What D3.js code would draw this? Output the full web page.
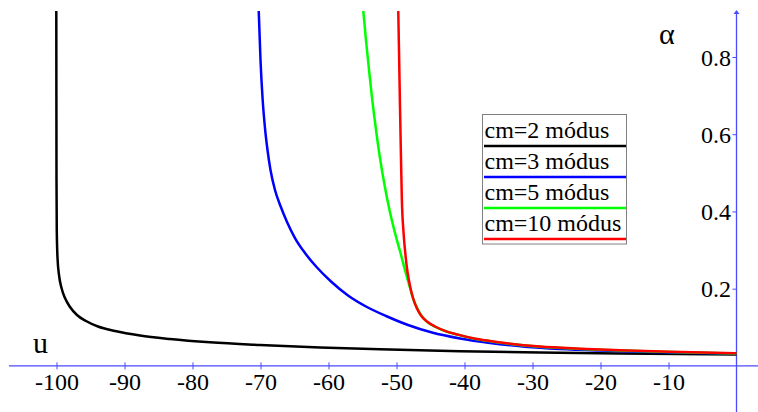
<!DOCTYPE html>
<html>
<head>
<meta charset="utf-8">
<script src="https://cdn.jsdelivr.net/npm/d3@7"></script>
<style>
  html, body { margin: 0; padding: 0; background: #fff; }
  svg { display: block; }
</style>
</head>
<body>
<svg id="chart" width="758" height="412"></svg>
<script>
// Tick values
const xTicks = [-100, -90, -80, -70, -60, -50, -40, -30, -20, -10];
const yTicks = [0.2, 0.4, 0.6, 0.8];

// Series: u (horizontal) and alpha (vertical) samples for each cm value
const seriesNames = ["cm=2 módus", "cm=3 módus", "cm=5 módus", "cm=10 módus"];
const seriesColors = ["#000000", "#0000ff", "#00ff00", "#ff0000"];

const uCm2 = [-100.03, -100.015, -100.0, -99.96, -99.85, -99.63, -99.26, -98.75, -98.01, -96.99, -95.66, -93.90, -91.40, -87.72, -83.31, -77.43, -70.07, -61.25, -52.43, -40.66, -28.90, -17.13, 0];
const aCm2 = [0.9191, 0.6886, 0.4814, 0.3520, 0.2794, 0.2354, 0.2017, 0.1758, 0.1525, 0.1318, 0.1163, 0.1020, 0.0904, 0.0787, 0.0697, 0.0611, 0.0541, 0.0477, 0.0430, 0.0381, 0.0347, 0.0321, 0.0295];

const uCm3 = [-70.26, -70.0, -69.68, -69.34, -68.97, -68.53, -67.87, -67.06, -66.10, -64.93, -63.46, -61.69, -59.63, -57.13, -54.49, -51.54, -48.31, -44.78, -40.66, -36.25, -31.10, -25.96, -20.07, -12.72, -5.37, 0];
const aCm3 = [0.9191, 0.7922, 0.6886, 0.6161, 0.5591, 0.5073, 0.4555, 0.4141, 0.3727, 0.3312, 0.2924, 0.2548, 0.2186, 0.1823, 0.1538, 0.1292, 0.1059, 0.0865, 0.0710, 0.0593, 0.0497, 0.0438, 0.0396, 0.0360, 0.0334, 0.0319];

const uCm5 = [-54.88, -54.49, -54.04, -53.56, -53.01, -52.43, -51.76, -51.03, -50.22, -49.41, -48.68, -48.01, -47.43, -46.84, -46.25, -45.37, -44.34, -42.87, -40.96, -38.75, -36.25, -33.75, -28.90, -23.01, -17.13, -9.78, 0];
const aCm5 = [0.9191, 0.8440, 0.7663, 0.6886, 0.6109, 0.5384, 0.4685, 0.4037, 0.3442, 0.2924, 0.2432, 0.2017, 0.1681, 0.1461, 0.1279, 0.1121, 0.1015, 0.0904, 0.0805, 0.0712, 0.0640, 0.0580, 0.0495, 0.0440, 0.0399, 0.0360, 0.0321];

const uCm10 = [-49.74, -49.62, -49.49, -49.35, -49.21, -48.97, -48.68, -48.38, -48.01, -47.57, -47.06, -46.40, -45.51, -44.34, -42.87, -40.96, -38.75, -36.25, -33.75, -28.90, -23.01, -17.13, -9.78, 0];
const aCm10 = [0.9191, 0.8052, 0.6757, 0.5462, 0.4297, 0.3468, 0.2872, 0.2432, 0.2069, 0.1758, 0.1512, 0.1305, 0.1150, 0.1020, 0.0909, 0.0811, 0.0717, 0.0645, 0.0585, 0.0500, 0.0445, 0.0404, 0.0365, 0.0326];

const seriesU = [uCm2, uCm3, uCm5, uCm10];
const seriesA = [aCm2, aCm3, aCm5, aCm10];

const svg = d3.select("#chart");
const W = 758, H = 412;
const axisColor = "#4a4aff";
const serifStyle = "font-family: 'Liberation Serif', 'DejaVu Serif', serif;";

const x = d3.scaleLinear().domain([-100, 0]).range([56.5, 736.5]);
const y = d3.scaleLinear().domain([0, 0.8]).range([365.9, 57]);

// clip curves to plotting area
svg.append("defs").append("clipPath").attr("id", "plotClip")
  .append("rect").attr("x", 0).attr("y", 11).attr("width", W).attr("height", H - 11);

// Horizontal axis
const xAxis = d3.axisBottom(x).tickValues(xTicks).tickSize(3).tickFormat(d => String(d));
const gx = svg.append("g").attr("transform", `translate(0,${y(0)})`).call(xAxis);
gx.select(".domain").remove();
gx.selectAll(".tick line").attr("y1", -3.5).attr("y2", 3.5).attr("stroke", axisColor).attr("stroke-width", 1);
gx.selectAll(".tick text").attr("y", 24).attr("dy", 0).attr("fill", "#000")
  .attr("style", serifStyle + " font-size: 24px;");
svg.append("line").attr("x1", 9).attr("x2", W).attr("y1", y(0)).attr("y2", y(0))
  .attr("stroke", axisColor).attr("stroke-width", 1.3);

// Vertical axis
const yAxis = d3.axisLeft(y).tickValues(yTicks).tickSize(4).tickFormat(d3.format(".1f"));
const gy = svg.append("g").attr("transform", `translate(${x(0)},0)`).call(yAxis);
gy.select(".domain").remove();
gy.selectAll(".tick line").attr("x1", 0).attr("x2", -4).attr("stroke", axisColor).attr("stroke-width", 1);
gy.selectAll(".tick text").attr("x", -5.5).attr("dy", "0.34em").attr("fill", "#000")
  .attr("style", serifStyle + " font-size: 24px;");
svg.append("line").attr("x1", x(0)).attr("x2", x(0)).attr("y1", 12).attr("y2", H)
  .attr("stroke", axisColor).attr("stroke-width", 1.3);
svg.append("path")
  .attr("d", `M${x(0) - 3},${14} L${x(0)},${10} L${x(0) + 3},${14} Z`)
  .attr("fill", axisColor);

// Axis names
svg.append("text").attr("x", 33).attr("y", 353).attr("style", serifStyle + " font-size: 30px;").text("u");
svg.append("text").attr("x", 659).attr("y", 44).attr("style", serifStyle + " font-size: 30px;").text("α");

// Curves
const line = d3.line()
  .x(d => x(d[0]))
  .y(d => y(d[1]))
  .curve(d3.curveMonotoneX);

const gCurves = svg.append("g").attr("clip-path", "url(#plotClip)");
seriesU.forEach((us, i) => {
  const pts = us.map((u, j) => [u, seriesA[i][j]]);
  gCurves.append("path")
    .datum(pts)
    .attr("d", line)
    .attr("fill", "none")
    .attr("stroke", seriesColors[i])
    .attr("stroke-width", 2.5)
    .attr("stroke-linejoin", "round");
});

// Legend
const lg = svg.append("g");
lg.append("rect").attr("x", 482.5).attr("y", 114.5).attr("width", 144).attr("height", 129.5)
  .attr("fill", "#fff").attr("stroke", "#808080").attr("stroke-width", 1);
seriesNames.forEach((name, i) => {
  const base = 137.7 + i * 31;
  lg.append("text").attr("x", 484.5).attr("y", base)
    .attr("style", serifStyle + " font-size: 24px;").text(name);
  lg.append("line").attr("x1", 484).attr("x2", 626).attr("y1", base + 8.2).attr("y2", base + 8.2)
    .attr("stroke", seriesColors[i]).attr("stroke-width", 2.5);
});
</script>
</body>
</html>
